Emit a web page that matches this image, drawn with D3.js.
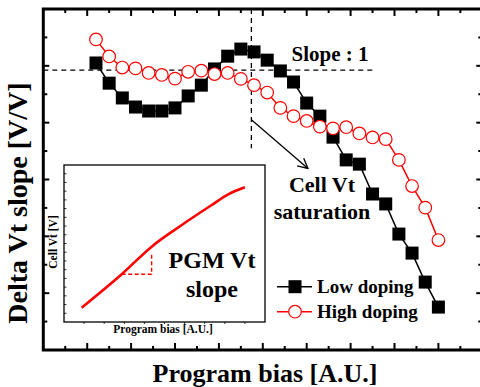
<!DOCTYPE html>
<html><head><meta charset="utf-8">
<script src="https://cdn.jsdelivr.net/npm/d3@7"></script>
<style>body{margin:0;background:#fff}svg{display:block}text{font-family:"Liberation Serif","Times New Roman",serif;font-weight:bold}</style>
</head><body>
<svg id="c" width="480" height="387"></svg>
<script>
// Data
const biasValues = [1.2,1.5,1.8,2.1,2.4,2.7,3.0,3.3,3.6,3.9,4.2,4.5,4.8,5.1,5.4,5.7,6.0,6.3,6.6,6.9,7.2,7.5,7.8,8.1,8.4,8.7,9.0];
const lowDoping  = [10.10,9.39,8.87,8.55,8.41,8.41,8.52,8.94,9.32,9.89,10.34,10.59,10.49,10.20,9.82,9.43,8.69,8.23,7.49,6.69,6.54,5.49,5.14,4.08,3.41,2.39,1.51];
const highDoping = [10.93,10.33,9.94,9.91,9.75,9.68,9.55,9.79,9.83,9.71,9.75,9.54,9.32,9.06,8.52,8.23,8.06,7.86,7.80,7.84,7.62,7.48,7.42,6.69,5.77,5.01,3.87];
const seriesNames = ["Low doping","High doping"];
const xMajorTicks = [1,2,3,4,5,6,7,8,9];
const xMinorTicks = [0.5,1.5,2.5,3.5,4.5,5.5,6.5,7.5,8.5,9.5];
const yTicks = [1,2,3,4,5,6,7,8,9,10,11];
const slopeRefY = 9.85;   // "Slope : 1" reference level
const saturationX = 4.74; // cell Vt saturation bias
// Inset data
const insetBias = [0.88,2.87,4.36,5.86,7.35,8.17,9.0];
const insetVt   = [1.64,5.47,8.64,11.12,13.41,14.63,15.44];
const insetTriangle = [[2.87,5.47],[4.36,5.47],[4.36,7.94]];
const insetYTicks = d3.range(1,18);
const insetXTicks = d3.range(1,10);

const svg = d3.select("#c");
const x = d3.scaleLinear().domain([0,10]).range([43.3,482.3]);
const y = d3.scaleLinear().domain([0,12]).range([350,9]);

// Frame
svg.append("rect").attr("x",x(0)).attr("y",y(12)).attr("width",x(10)-x(0)).attr("height",y(0)-y(12))
  .attr("fill","none").attr("stroke","#000").attr("stroke-width",3);

// ticks
const tk = svg.append("g").attr("stroke","#000").attr("stroke-width",2);
xMajorTicks.forEach(v=>{
  tk.append("line").attr("x1",x(v)).attr("x2",x(v)).attr("y1",y(0)).attr("y2",y(0)-7);
  tk.append("line").attr("x1",x(v)).attr("x2",x(v)).attr("y1",y(12)).attr("y2",y(12)+7);
});
xMinorTicks.forEach(v=>{
  tk.append("line").attr("x1",x(v)).attr("x2",x(v)).attr("y1",y(0)).attr("y2",y(0)-4);
  tk.append("line").attr("x1",x(v)).attr("x2",x(v)).attr("y1",y(12)).attr("y2",y(12)+4);
});
yTicks.forEach(v=>{
  const L = v%2===0?6:4;
  tk.append("line").attr("x1",x(0)).attr("x2",x(0)+L).attr("y1",y(v)).attr("y2",y(v));
  tk.append("line").attr("x1",x(10)).attr("x2",x(10)-L).attr("y1",y(v)).attr("y2",y(v));
});

// Dashed reference lines
svg.append("line").attr("x1",x(0)).attr("x2",x(7.5)).attr("y1",y(slopeRefY)).attr("y2",y(slopeRefY))
  .attr("stroke","#000").attr("stroke-width",1.3).attr("stroke-dasharray","5,4");
svg.append("line").attr("x1",x(saturationX)).attr("x2",x(saturationX)).attr("y1",y(12)).attr("y2",y(7.1))
  .attr("stroke","#000").attr("stroke-width",1.3).attr("stroke-dasharray","5,4");

// Inset
const ix = d3.scaleLinear().domain([0,10]).range([64,265]);
const iy = d3.scaleLinear().domain([0,18]).range([322,165]);
svg.append("rect").attr("x",ix(0)).attr("y",iy(18)).attr("width",ix(10)-ix(0)).attr("height",iy(0)-iy(18))
  .attr("fill","#fff").attr("stroke","#000").attr("stroke-width",1.3);
const itk = svg.append("g").attr("stroke","#000").attr("stroke-width",0.8);
insetYTicks.forEach(v=>itk.append("line").attr("x1",ix(0)).attr("x2",ix(0)+2.5).attr("y1",iy(v)).attr("y2",iy(v)));
insetXTicks.forEach(v=>itk.append("line").attr("x1",ix(v)).attr("x2",ix(v)).attr("y1",iy(0)).attr("y2",iy(0)+2));
svg.append("path").datum(d3.zip(insetBias,insetVt))
  .attr("d",d3.line().x(d=>ix(d[0])).y(d=>iy(d[1])).curve(d3.curveMonotoneX))
  .attr("fill","none").attr("stroke","#f00").attr("stroke-width",2.6);
svg.append("path").datum(insetTriangle)
  .attr("d",d3.line().x(d=>ix(d[0])).y(d=>iy(d[1])))
  .attr("fill","none").attr("stroke","#f00").attr("stroke-width",1.4).attr("stroke-dasharray","4,2.5");
svg.append("text").attr("x",163).attr("y",333).attr("text-anchor","middle").attr("font-size",11.5).text("Program bias [A.U.]");
svg.append("text").attr("transform","translate(57,242) rotate(-90)").attr("text-anchor","middle").attr("font-size",11.5).text("Cell Vt [V]");
svg.append("text").attr("x",212).attr("y",268).attr("text-anchor","middle").attr("font-size",24).text("PGM Vt");
svg.append("text").attr("x",212).attr("y",297).attr("text-anchor","middle").attr("font-size",24).text("slope");

// Series
const pts = (vals)=>biasValues.map((b,i)=>[b,vals[i]]);
const line = d3.line().x(d=>x(d[0])).y(d=>y(d[1]));
svg.append("path").datum(pts(lowDoping)).attr("d",line).attr("fill","none").attr("stroke","#000").attr("stroke-width",1.5);
svg.append("g").selectAll("rect").data(pts(lowDoping)).join("rect")
  .attr("x",d=>x(d[0])-6.5).attr("y",d=>y(d[1])-6.5).attr("width",13).attr("height",13).attr("fill","#000");
svg.append("path").datum(pts(highDoping)).attr("d",line).attr("fill","none").attr("stroke","#f00").attr("stroke-width",1.5);
svg.append("g").selectAll("circle").data(pts(highDoping)).join("circle")
  .attr("cx",d=>x(d[0])).attr("cy",d=>y(d[1])).attr("r",6.3).attr("fill","#fff").attr("stroke","#f00").attr("stroke-width",1.2);

// Arrow
svg.append("defs").append("marker").attr("id","ah").attr("viewBox","0 0 12 12").attr("refX",11).attr("refY",6)
  .attr("markerWidth",12).attr("markerHeight",12).attr("markerUnits","userSpaceOnUse").attr("orient","auto")
  .append("path").attr("d","M1,1 L11,6 L1,11").attr("fill","none").attr("stroke","#000").attr("stroke-width",1.3);
svg.append("line").attr("x1",251.7).attr("y1",120).attr("x2",308).attr("y2",168.5)
  .attr("stroke","#000").attr("stroke-width",1.3).attr("marker-end","url(#ah)");

// Annotations
svg.append("text").attr("x",291.5).attr("y",61).attr("font-size",21).text("Slope : 1");
svg.append("text").attr("x",322).attr("y",192).attr("text-anchor","middle").attr("font-size",22).text("Cell Vt");
svg.append("text").attr("x",322).attr("y",219).attr("text-anchor","middle").attr("font-size",22).text("saturation");

// Legend
const lg = svg.append("g");
lg.append("line").attr("x1",277).attr("x2",312).attr("y1",286.7).attr("y2",286.7).attr("stroke","#000").attr("stroke-width",1.5);
lg.append("rect").attr("x",295-6.5).attr("y",286.7-6.5).attr("width",13).attr("height",13).attr("fill","#000");
lg.append("text").attr("x",317).attr("y",293).attr("font-size",19).text(seriesNames[0]);
lg.append("line").attr("x1",277).attr("x2",312).attr("y1",311.7).attr("y2",311.7).attr("stroke","#f00").attr("stroke-width",1.5);
lg.append("circle").attr("cx",295).attr("cy",311.7).attr("r",6.3).attr("fill","#fff").attr("stroke","#f00").attr("stroke-width",1.2);
lg.append("text").attr("x",317).attr("y",318).attr("font-size",19).text(seriesNames[1]);

// Axis titles
svg.append("text").attr("x",265).attr("y",382).attr("text-anchor","middle").attr("font-size",26).text("Program bias [A.U.]");
svg.append("text").attr("transform","translate(27,203) rotate(-90)").attr("text-anchor","middle").attr("font-size",28).text("Delta Vt slope [V/V]");
</script>
</body></html>
